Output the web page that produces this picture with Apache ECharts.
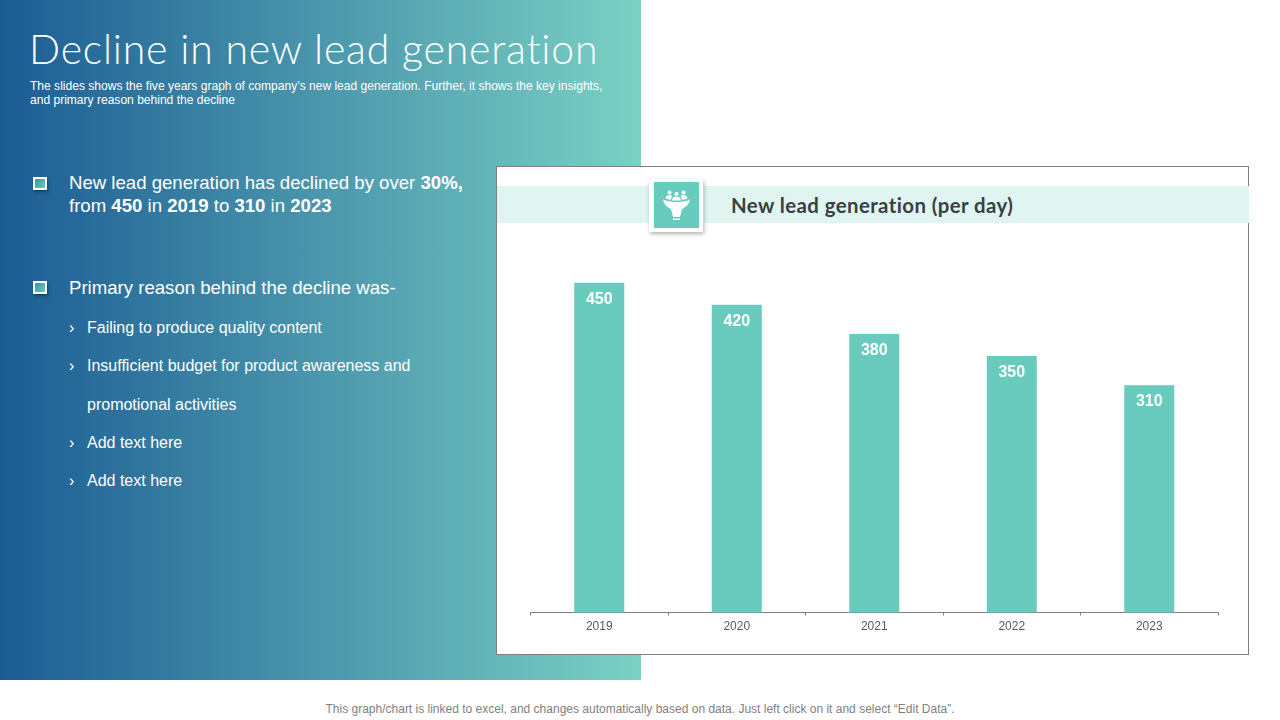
<!DOCTYPE html>
<html>
<head>
<meta charset="utf-8">
<script src="https://cdn.jsdelivr.net/npm/echarts@6/dist/echarts.min.js"></script>
<style>
html,body{margin:0;padding:0;background:#fff;}
#slide{position:relative;width:1280px;height:720px;overflow:hidden;font-family:"Liberation Sans",Arial,sans-serif;}
#slide div{position:absolute;white-space:nowrap;}
#panel{left:0;top:0;width:641px;height:680px;background:linear-gradient(90deg,#1b5c94 0%,#7bd1c4 100%);}
#title{left:29px;top:25px;font-family:Lato,sans-serif;font-weight:300;font-size:41px;line-height:48px;color:#fff;letter-spacing:.8px;}
.sub{left:30px;font-size:12.06px;line-height:14px;color:#fff;}
.main{left:69px;font-size:18.6px;line-height:22px;color:#fff;}
.item{left:87px;font-size:16px;line-height:20px;color:#fff;}
.arrow{left:69px;font-size:16px;line-height:20px;color:#fff;}
.check{left:33px;width:10px;height:9px;border:2px solid #fff;background:linear-gradient(135deg,#3e8f9f,#6bcdbd);box-shadow:1px 2px 3px rgba(0,0,0,.35);}
#card{left:496px;top:166px;width:751px;height:487px;background:#fff;border:1px solid #7f7f7f;}
#band1{left:497px;top:186px;width:152px;height:37px;background:#e0f4f1;}
#band2{left:704px;top:186px;width:545px;height:37px;background:#e0f4f1;}
#iconbox{left:649px;top:179px;width:54px;height:53px;background:#fff;box-shadow:1px 2px 4px rgba(0,0,0,.3);}
#icon{left:654px;top:182px;width:45px;height:46px;background:#68cbbd;}
#cardtitle{left:731px;top:193px;font-family:Lato,sans-serif;font-weight:700;font-size:20.4px;line-height:25px;color:#3a3f41;letter-spacing:.42px;}
#main{left:497px;top:167px;width:751px;height:487px;}
#foot{left:0;top:702px;width:1280px;text-align:center;font-size:12px;line-height:15px;color:#7f7f7f;}
</style>
</head>
<body>
<div id="slide">
  <div id="panel"></div>
  <div id="title">Decline in new lead generation</div>
  <div class="sub" style="top:79px">The slides shows the five years graph of company’s new lead generation. Further, it shows the key insights,</div>
  <div class="sub" style="top:93px">and primary reason behind the decline</div>

  <div class="check" style="top:177px"></div>
  <div class="main" style="top:172px">New lead generation has declined by over <b>30%,</b></div>
  <div class="main" style="top:195px">from <b>450</b> in <b>2019</b> to <b>310</b> in <b>2023</b></div>
  <div class="check" style="top:281px"></div>
  <div class="main" style="top:277px">Primary reason behind the decline was-</div>

  <div class="arrow" style="top:318px">›</div>
  <div class="item" style="top:318px">Failing to produce quality content</div>
  <div class="arrow" style="top:356px">›</div>
  <div class="item" style="top:356px">Insufficient budget for product awareness and</div>
  <div class="item" style="top:395px">promotional activities</div>
  <div class="arrow" style="top:433px">›</div>
  <div class="item" style="top:433px">Add text here</div>
  <div class="arrow" style="top:471px">›</div>
  <div class="item" style="top:471px">Add text here</div>

  <div id="card"></div>
  <div id="main"></div>
  <div id="band1"></div>
  <div id="band2"></div>
  <div id="iconbox"></div>
  <div id="icon">
    <svg width="45" height="46" viewBox="0 0 45 46">
      <g fill="#fff">
        <circle cx="15.500" cy="10.500" r="2"/><circle cx="22.500" cy="12" r="2"/><circle cx="29.500" cy="10.500" r="2"/>
        <path d="M11.500 16.500c.3-2.500 2-3.500 4-3.500 1.300 0 2.300.4 3 1.200-.9.800-1.500 2-1.500 3.800zM33.500 16.500c-.3-2.500-2-3.500-4-3.500-1.300 0-2.300.4-3 1.200.9.800 1.500 2 1.500 3.800zM18 18.500c.2-2.500 2-4 4.500-4s4.300 1.500 4.500 4z"/>
        <path d="M9 17c3 4 24 4 27 0-.5 5-4 8-8 10l-2 8h-7l-2-8c-4-2-7.500-5-8-10z"/>
        <rect x="19" y="36.500" width="7" height="1.500"/>
      </g>
    </svg>
  </div>
  <div id="cardtitle">New lead generation (per day)</div>
  <div id="foot">This graph/chart is linked to excel, and changes automatically based on data. Just left click on it and select “Edit Data”.</div>
</div>
<script>
const years = ['2019', '2020', '2021', '2022', '2023'];
const leads = [450, 420, 380, 350, 310];

const myChart = echarts.init(document.getElementById('main'));
myChart.setOption({
    animation: false,
    grid: {
        left: 33.5,
        right: 30,
        top: 79,
        bottom: 41.5
    },
    xAxis: {
        type: 'category',
        data: years,
        axisLine: { lineStyle: { color: '#7f7f7f', width: 1 } },
        axisTick: { show: true, length: 3, inside: false, lineStyle: { color: '#7f7f7f' } },
        axisLabel: { color: '#595959', fontSize: 12, fontFamily: 'Liberation Sans', margin: 8 }
    },
    yAxis: {
        type: 'value',
        min: 0,
        max: 500,
        show: false,
        splitLine: { show: false }
    },
    series: [
        {
            type: 'bar',
            data: leads,
            barWidth: 50,
            itemStyle: { color: '#68cbbd' },
            label: {
                show: true,
                position: 'insideTop',
                distance: 8.5,
                color: '#fff',
                fontSize: 16,
                fontWeight: 'bold',
                fontFamily: 'Liberation Sans'
            }
        }
    ]
});
</script>
</body>
</html>
